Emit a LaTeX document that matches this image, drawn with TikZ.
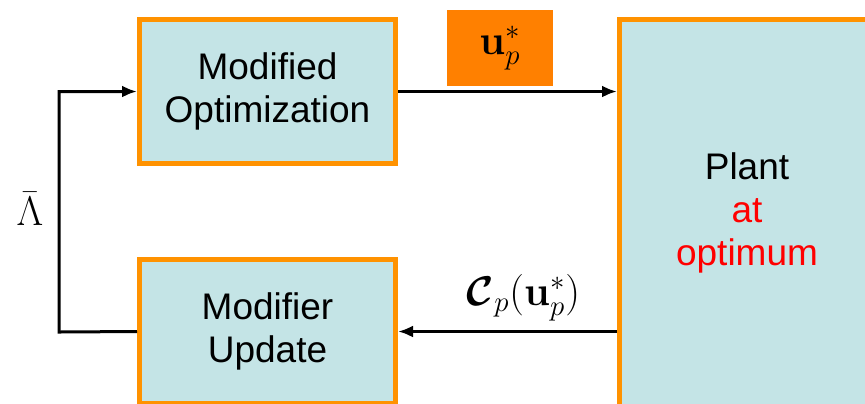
\documentclass[tikz,border=0pt]{standalone}
\usepackage{amsmath}
\usepackage{amssymb}
\usepackage[no-math]{fontspec}
\setmainfont{Liberation Sans}
\usetikzlibrary{arrows.meta,positioning,calc}

\definecolor{boxfill}{RGB}{196,228,230}
\definecolor{boxline}{RGB}{255,146,0}
\definecolor{tagfill}{RGB}{255,128,0}

\begin{document}
\begin{tikzpicture}[x=0.5pt,y=-0.5pt,
  block/.style={draw=boxline,fill=boxfill,line width=2.5pt,align=center,
    font=\fontsize{18.5}{21.5}\selectfont},
  arr/.style={line width=1.5pt,-{Latex[length=7.5pt,width=6pt]}},
  mlabel/.style={font=\fontsize{20}{24}\selectfont}]
\useasboundingbox (0,0) rectangle (865,403);
\clip (0,0) rectangle (865,403);

\node[block,minimum width=128pt,minimum height=72pt] (opt) at (267.5,91.5) {Modified\\Optimization};
\node[block,minimum width=128pt,minimum height=72pt] (upd) at (267.5,331.5) {Modifier\\Update};
\node[block,minimum width=127.5pt,minimum height=193.5pt] (plant) at (747,213) {Plant\\\textcolor{red}{at}\\\textcolor{red}{optimum}};

% input to the plant
\node[fill=tagfill,minimum width=53pt,minimum height=38pt,mlabel] (ustar) at (500,48) {$\mathbf{u}_p^*$};
\draw[arr] (opt.east) -- (opt.east -| plant.west);

% measurement back
\draw[arr] (upd.east -| plant.west) -- node[above,mlabel,xshift=8pt,yshift=1pt] (meas) {$\boldsymbol{\mathcal{C}}_p(\mathbf{u}_p^*)$} (upd.east);

% modifiers back to optimization
\coordinate (lbend) at (59,332);
\draw[arr] (upd.west) -- (lbend) |- (opt.west);
\node[font=\fontsize{21}{25}\selectfont] (lam) at (30,209) {$\bar{\Lambda}$};
\end{tikzpicture}
\end{document}
